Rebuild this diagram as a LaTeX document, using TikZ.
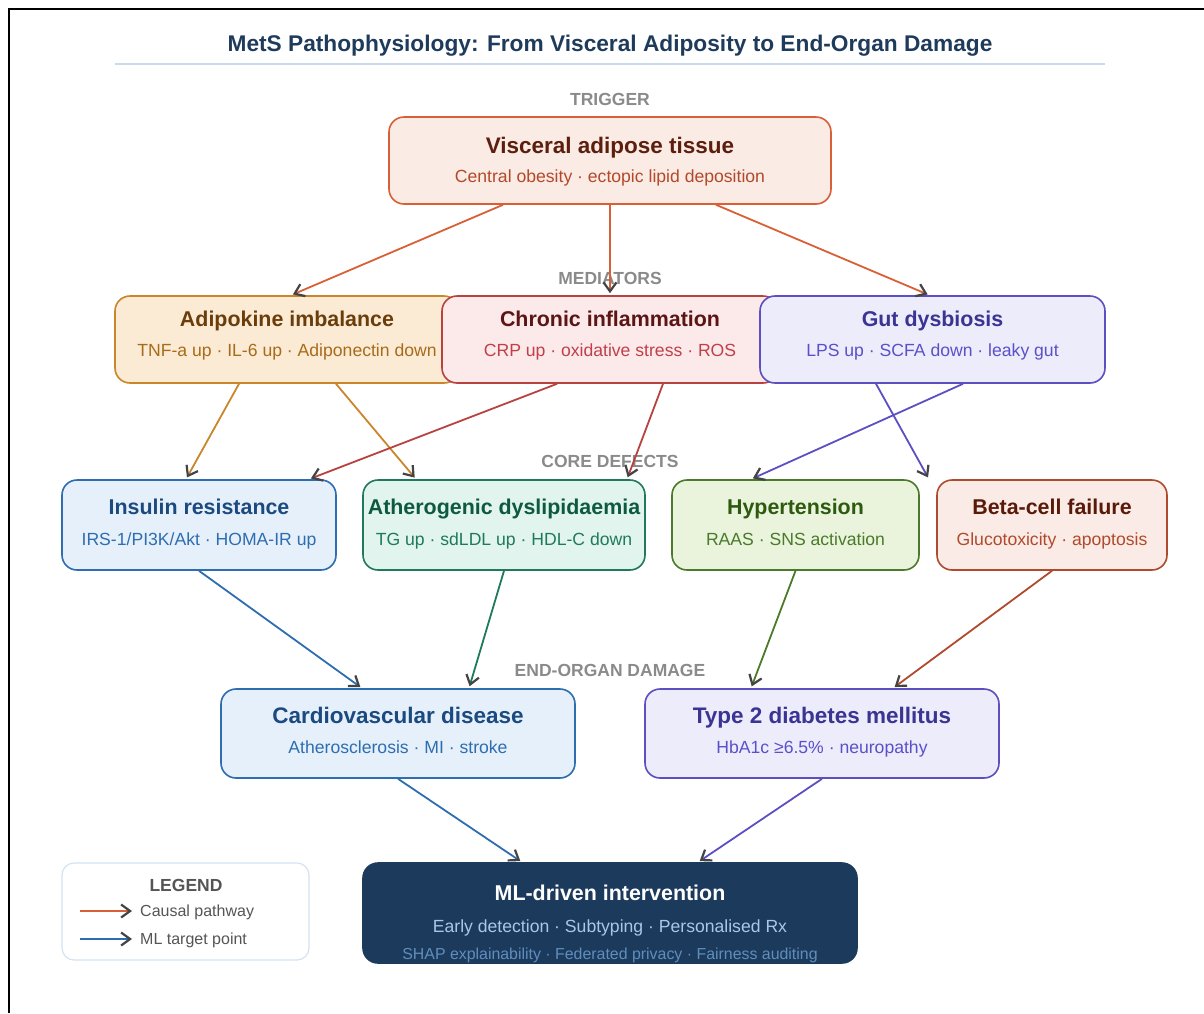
\documentclass[tikz,border=0pt]{standalone}
\usepackage{fontspec}
\setmainfont{Liberation Sans}
\usetikzlibrary{arrows.meta,calc}
\definecolor{titleC}{HTML}{1F3B5C}
\definecolor{ruleC}{HTML}{C8DAEC}
\definecolor{layerC}{HTML}{8A8A8A}
\definecolor{tipC}{HTML}{444444}
\definecolor{visF}{HTML}{FBEBE5}\definecolor{visD}{HTML}{D95F37}\definecolor{visT}{HTML}{5C1F0D}\definecolor{visS}{HTML}{B3492A}
\definecolor{adpF}{HTML}{FBEBD5}\definecolor{adpD}{HTML}{C9862B}\definecolor{adpT}{HTML}{6B3D0B}\definecolor{adpS}{HTML}{A86B1A}
\definecolor{chrF}{HTML}{FCE9EA}\definecolor{chrD}{HTML}{B8423F}\definecolor{chrT}{HTML}{5C1515}\definecolor{chrS}{HTML}{C0404A}
\definecolor{gutF}{HTML}{EDECFB}\definecolor{gutD}{HTML}{5B4FC2}\definecolor{gutT}{HTML}{3A3493}\definecolor{gutS}{HTML}{5A50C8}
\definecolor{insF}{HTML}{E6F0FB}\definecolor{insD}{HTML}{2D6DB0}\definecolor{insT}{HTML}{1B4A80}\definecolor{insS}{HTML}{2D6DB0}
\definecolor{athF}{HTML}{E1F4EE}\definecolor{athD}{HTML}{1F7A5C}\definecolor{athT}{HTML}{0E5A40}\definecolor{athS}{HTML}{1F7A5C}
\definecolor{hypF}{HTML}{EAF4DD}\definecolor{hypD}{HTML}{4A7A2A}\definecolor{hypT}{HTML}{2E5A10}\definecolor{hypS}{HTML}{4A7A2A}
\definecolor{betF}{HTML}{FBEBE6}\definecolor{betD}{HTML}{B04A2C}\definecolor{betT}{HTML}{5A1A0A}\definecolor{betS}{HTML}{B04A2C}
\definecolor{mlF}{HTML}{1C3A5C}\definecolor{mlS}{HTML}{A9C8E8}\definecolor{mlS2}{HTML}{5F8EBD}
\definecolor{legD}{HTML}{D2E2F2}\definecolor{legT}{HTML}{555555}
\tikzset{
  box/.style={rounded corners=15pt, line width=1.6pt, inner sep=0pt},
  ttl/.style={font=\bfseries\fontsize{21.4}{24}\selectfont, inner sep=0pt, anchor=base},
  bigttl/.style={font=\bfseries\fontsize{22.5}{26}\selectfont, inner sep=0pt, anchor=base},
  subt/.style={font=\fontsize{17.6}{20}\selectfont, inner sep=0pt, anchor=base},
  layer/.style={font=\bfseries\fontsize{17.5}{20}\selectfont, text=layerC, inner sep=0pt, anchor=base},
  conn/.style={line width=1.8pt, -{Straight Barb[length=9pt,width=13pt,line width=2.2pt,color=tipC]}, shorten >=2pt},
}
\begin{document}
\begin{tikzpicture}[x=1pt,y=-1pt]
\useasboundingbox (0,0) rectangle (1204,1013);
% frame (cropped)
\draw[line width=2pt, black] (9,1013) -- (9,9) -- (1204,9);
% title
\node[font=\bfseries\fontsize{22.7}{26}\selectfont, text=titleC, inner sep=0pt, anchor=base] (title) at (610,51) {MetS Pathophysiology: From Visceral Adiposity to End-Organ Damage};
\draw[ruleC, line width=1.5pt] (115,64) -- (1105,64);
% layer labels
\node[layer] (lTrig) at (610,105.2) {TRIGGER};
\node[layer] (lMed) at (610,284.2) {MEDIATORS};
\node[layer] (lCore) at (610,467.2) {CORE DEFECTS};
\node[layer] (lEnd) at (610,676.2) {END-ORGAN DAMAGE};
% trigger
\node[box, fill=visF, draw=visD, minimum width=442, minimum height=87] (vis) at (610,160.5) {};
\node[bigttl, text=visT] (visA) at ([yshift=-37.3pt]vis.north) {Visceral adipose tissue};
\node[subt, text=visS] (visB) at ([yshift=-66.3pt]vis.north) {Central obesity · ectopic lipid deposition};
% mediators
\node[box, fill=adpF, draw=adpD, minimum width=344, minimum height=87] (adp) at (287,339.5) {};
\node[ttl, text=adpT] (adpA) at ([yshift=-31.5pt]adp.north) {Adipokine imbalance};
\node[subt, text=adpS] (adpB) at ([yshift=-61.3pt]adp.north) {TNF-a up · IL-6 up · Adiponectin down};
\node[box, fill=chrF, draw=chrD, minimum width=336, minimum height=87] (chr) at (610,339.5) {};
\node[ttl, text=chrT] (chrA) at ([yshift=-31.5pt]chr.north) {Chronic inflammation};
\node[subt, text=chrS] (chrB) at ([yshift=-61.3pt]chr.north) {CRP up · oxidative stress · ROS};
\node[box, fill=gutF, draw=gutD, minimum width=345, minimum height=87] (gut) at (932.5,339.5) {};
\node[ttl, text=gutT] (gutA) at ([yshift=-31.5pt]gut.north) {Gut dysbiosis};
\node[subt, text=gutS] (gutB) at ([yshift=-61.3pt]gut.north) {LPS up · SCFA down · leaky gut};
% core defects
\node[box, fill=insF, draw=insD, minimum width=274, minimum height=90] (ins) at (199,525) {};
\node[ttl, text=insT] (insA) at ([yshift=-35pt]ins.north) {Insulin resistance};
\node[subt, text=insS] (insB) at ([yshift=-65.8pt]ins.north) {IRS-1/PI3K/Akt · HOMA-IR up};
\node[box, fill=athF, draw=athD, minimum width=282, minimum height=90] (ath) at (504,525) {};
\node[ttl, text=athT] (athA) at ([yshift=-35pt]ath.north) {Atherogenic dyslipidaemia};
\node[subt, text=athS] (athB) at ([yshift=-65.8pt]ath.north) {TG up · sdLDL up · HDL-C down};
\node[box, fill=hypF, draw=hypD, minimum width=247, minimum height=90] (hyp) at (795.5,525) {};
\node[ttl, text=hypT] (hypA) at ([yshift=-35pt]hyp.north) {Hypertension};
\node[subt, text=hypS] (hypB) at ([yshift=-65.8pt]hyp.north) {RAAS · SNS activation};
\node[box, fill=betF, draw=betD, minimum width=230, minimum height=90] (bet) at (1052,525) {};
\node[ttl, text=betT] (betA) at ([yshift=-35pt]bet.north) {Beta-cell failure};
\node[subt, text=betS] (betB) at ([yshift=-65.8pt]bet.north) {Glucotoxicity · apoptosis};
% end-organ
\node[box, fill=insF, draw=insD, minimum width=354, minimum height=89] (cvd) at (398,733.5) {};
\node[bigttl, text=insT] (cvdA) at ([yshift=-34.8pt]cvd.north) {Cardiovascular disease};
\node[subt, text=insS] (cvdB) at ([yshift=-65.5pt]cvd.north) {Atherosclerosis · MI · stroke};
\node[box, fill=gutF, draw=gutD, minimum width=354, minimum height=89] (dm) at (822,733.5) {};
\node[bigttl, text=gutT] (dmA) at ([yshift=-34.8pt]dm.north) {Type 2 diabetes mellitus};
\node[subt, text=gutS] (dmB) at ([yshift=-65.5pt]dm.north) {HbA1c ≥6.5\% · neuropathy};
% ML intervention
\node[box, fill=mlF, draw=mlF, minimum width=494, minimum height=100] (ml) at (610,913) {};
\node[ttl, text=white] (mlA) at ([yshift=-38.5pt]ml.north) {ML-driven intervention};
\node[subt, text=mlS] (mlB) at ([yshift=-70.3pt]ml.north) {Early detection · Subtyping · Personalised Rx};
\node[font=\fontsize{15.9}{18}\selectfont, text=mlS2, inner sep=0pt, anchor=base] (mlC) at ([yshift=-97.5pt]ml.north) {SHAP explainability · Federated privacy · Fairness auditing};
% legend
\node[box, draw=legD, fill=white, line width=1.2pt, rounded corners=12pt, minimum width=247, minimum height=97] (leg) at (185.5,911.5) {};
\node[font=\bfseries\fontsize{17.5}{20}\selectfont, text=legT, inner sep=0pt, anchor=base] (legA) at (186,891.2) {LEGEND};
\coordinate (lg1a) at (80,911); \coordinate (lg1b) at (132,911);
\coordinate (lg2a) at (80,939); \coordinate (lg2b) at (132,939);
\draw[conn, visD, shorten >=0pt, line width=2.6pt] (lg1a) -- (lg1b);
\draw[conn, insD, shorten >=0pt, line width=2.6pt] (lg2a) -- (lg2b);
\node[font=\fontsize{16}{18}\selectfont, text=legT, inner sep=0pt, anchor=base west] (legB) at (140,916.7) {Causal pathway};
\node[font=\fontsize{16}{18}\selectfont, text=legT, inner sep=0pt, anchor=base west] (legC) at (140,944.7) {ML target point};
% connectors trigger -> mediators
\draw[conn, visD] ([xshift=-107pt]vis.south) -- ([xshift=4pt]adp.north);
\draw[conn, visD] (vis.south) -- (chr.north);
\draw[conn, visD] ([xshift=106pt]vis.south) -- ([xshift=-3pt]gut.north);
% mediators -> core
\draw[conn, adpD] ([xshift=-48pt]adp.south) -- ([xshift=-13pt]ins.north);
\draw[conn, adpD] ([xshift=49pt]adp.south) -- ([xshift=-88pt]ath.north);
\draw[conn, chrD] ([xshift=-53pt]chr.south) -- ([xshift=110pt]ins.north);
\draw[conn, chrD] ([xshift=53pt]chr.south) -- ([xshift=123pt]ath.north);
\draw[conn, gutD] ([xshift=30.5pt]gut.south) -- ([xshift=-44.5pt]hyp.north);
\draw[conn, gutD] ([xshift=-56.5pt]gut.south) -- ([xshift=-123pt]bet.north);
% core -> end-organ
\draw[conn, insD] (ins.south) -- ([xshift=-36pt]cvd.north);
\draw[conn, athD] (ath.south) -- ([xshift=71pt]cvd.north);
\draw[conn, hypD] (hyp.south) -- ([xshift=-71pt]dm.north);
\draw[conn, betD] (bet.south) -- ([xshift=71pt]dm.north);
% end-organ -> ML
\draw[conn, insD] (cvd.south) -- ([xshift=-88pt]ml.north);
\draw[conn, gutD] (dm.south) -- ([xshift=88pt]ml.north);
\end{tikzpicture}
\end{document}
